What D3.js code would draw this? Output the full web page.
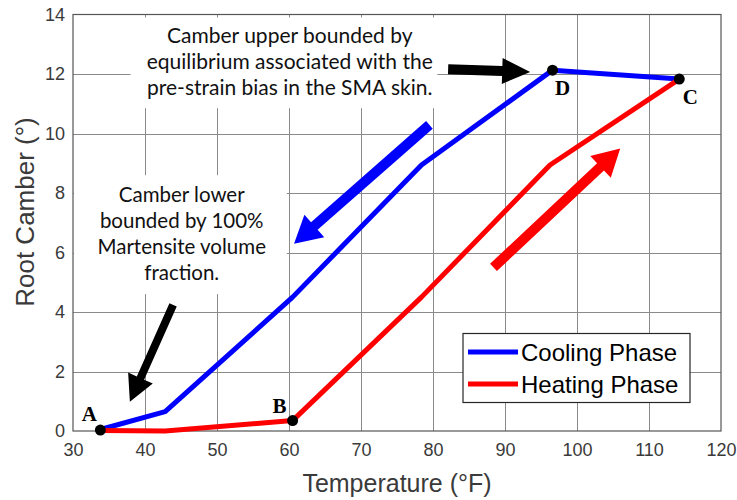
<!DOCTYPE html>
<html>
<head>
<meta charset="utf-8">
<script src="https://cdn.jsdelivr.net/npm/d3@7"></script>
<style>
  html, body { margin: 0; padding: 0; background: #fff; }
  svg { display: block; }
</style>
</head>
<body>
<div id="chart"></div>
<script>
// temperature (°F) and root camber (°)
const coolingTemp = [33.8, 42.8, 60.5, 78.4, 96.6, 114.2];
const coolingCamber = [0.05, 0.65, 4.5, 8.94, 12.13, 11.83];
const heatingTemp = [33.8, 42.8, 60.5, 78.4, 96.25, 114.2];
const heatingCamber = [0.02, 0.0, 0.35, 4.5, 8.94, 11.83];

const pointNames = ['A', 'B', 'C', 'D'];
const pointTemp = [33.8, 60.5, 114.2, 96.6];
const pointCamber = [0.03, 0.35, 11.83, 12.13];

const xTicks = [30, 40, 50, 60, 70, 80, 90, 100, 110, 120];
const yTicks = [0, 2, 4, 6, 8, 10, 12, 14];

const seriesNames = ['Cooling Phase', 'Heating Phase'];

const upperNote = ['Camber upper bounded by', 'equilibrium associated with the', 'pre-strain bias in the SMA skin.'];
const lowerNote = ['Camber lower', 'bounded by 100%', 'Martensite volume', 'fraction.'];

// arrows: [tailTemp, tailCamber, tipTemp, tipCamber]
const arrowBlack1 = [43.9, 4.24, 37.9, 0.98];
const arrowBlack2 = [82.1, 12.16, 93.5, 12.07];
const arrowCooling = [79.5, 10.29, 60.7, 6.29];
const arrowHeating = [88.4, 5.5, 106.0, 9.5];

const width = 737, height = 500;
const plotLeft = 73, plotRight = 721, plotTop = 14.5, plotBottom = 431;

const svg = d3.select('#chart').append('svg')
  .attr('width', width)
  .attr('height', height);

const x = d3.scaleLinear().domain([30, 120]).range([plotLeft, plotRight]);
const y = d3.scaleLinear().domain([0, 14]).range([plotBottom, plotTop]);

const axisFont = 'Liberation Sans, Arial, sans-serif';
const noteFont = 'Lato, Carlito, Calibri, sans-serif';

// grid
const grid = svg.append('g').attr('stroke', '#8a8a8a').attr('stroke-width', 1);
grid.selectAll('.gx').data(xTicks.slice(1, -1)).enter().append('line')
  .attr('x1', d => Math.round(x(d)) + 0.5).attr('x2', d => Math.round(x(d)) + 0.5)
  .attr('y1', plotTop).attr('y2', plotBottom);
grid.selectAll('.gy').data(yTicks.slice(1, -1)).enter().append('line')
  .attr('x1', plotLeft).attr('x2', plotRight)
  .attr('y1', d => Math.round(y(d)) + 0.5).attr('y2', d => Math.round(y(d)) + 0.5);

// axes
const xAxis = svg.append('g')
  .attr('transform', 'translate(0,' + plotBottom + ')')
  .call(d3.axisBottom(x).tickValues(xTicks).tickSize(0).tickPadding(12));
const yAxis = svg.append('g')
  .attr('transform', 'translate(' + plotLeft + ',0)')
  .call(d3.axisLeft(y).tickValues(yTicks).tickSize(0).tickPadding(8));
[xAxis, yAxis].forEach(a => {
  a.select('.domain').remove();
  a.selectAll('text')
    .style('font-family', axisFont)
    .style('font-size', '18px')
    .attr('fill', '#3a3a3a');
});

svg.append('rect')
  .attr('x', plotLeft).attr('y', plotTop)
  .attr('width', plotRight - plotLeft).attr('height', plotBottom - plotTop)
  .attr('fill', 'none')
  .attr('stroke', '#555')
  .attr('stroke-width', 1.2);

// white note boxes over the grid
svg.append('rect')
  .attr('x', x(38)).attr('y', y(13.9))
  .attr('width', x(80.6) - x(38)).attr('height', y(10.85) - y(13.9))
  .attr('fill', '#fff');
svg.append('rect')
  .attr('x', plotLeft + 1).attr('y', y(8.6))
  .attr('width', x(59.7) - plotLeft - 1).attr('height', y(4.6) - y(8.6))
  .attr('fill', '#fff');

const upper = svg.append('text')
  .attr('text-anchor', 'middle')
  .style('font-family', noteFont)
  .style('font-size', '21px')
  .attr('fill', '#111');
upper.selectAll('tspan').data(upperNote).enter().append('tspan')
  .attr('x', x(60.1))
  .attr('y', (d, i) => 43 + i * 26)
  .text(d => d);

const lower = svg.append('text')
  .attr('text-anchor', 'middle')
  .style('font-family', noteFont)
  .style('font-size', '20.5px')
  .attr('fill', '#111');
lower.selectAll('tspan').data(lowerNote).enter().append('tspan')
  .attr('x', x(45.1))
  .attr('y', (d, i) => 202 + i * 26)
  .text(d => d);

// arrows
function arrow(a, color, shaft, headW, headL) {
  const x0 = x(a[0]), y0 = y(a[1]), x1 = x(a[2]), y1 = y(a[3]);
  const len = Math.hypot(x1 - x0, y1 - y0);
  const ux = (x1 - x0) / len, uy = (y1 - y0) / len;
  const nx = -uy, ny = ux;
  const bx = x1 - ux * headL, by = y1 - uy * headL;
  const pts = [
    [x0 + nx * shaft / 2, y0 + ny * shaft / 2],
    [bx + nx * shaft / 2, by + ny * shaft / 2],
    [bx + nx * headW / 2, by + ny * headW / 2],
    [x1, y1],
    [bx - nx * headW / 2, by - ny * headW / 2],
    [bx - nx * shaft / 2, by - ny * shaft / 2],
    [x0 - nx * shaft / 2, y0 - ny * shaft / 2]
  ];
  svg.append('polygon')
    .attr('points', pts.map(p => p.join(',')).join(' '))
    .attr('fill', color);
}
arrow(arrowBlack1, '#000', 8, 27, 26);
arrow(arrowBlack2, '#000', 10, 26, 28);
arrow(arrowCooling, '#0000ff', 10, 30, 27);
arrow(arrowHeating, '#ff0000', 10, 30, 27);

// series
const line = d3.line().x(d => x(d[0])).y(d => y(d[1]));
const colors = ['#0000ff', '#ff0000'];
const series = [
  d3.zip(coolingTemp, coolingCamber),
  d3.zip(heatingTemp, heatingCamber)
];
series.forEach((s, i) => {
  svg.append('path')
    .datum(s)
    .attr('d', line)
    .attr('fill', 'none')
    .attr('stroke', colors[i])
    .attr('stroke-width', 5)
    .attr('stroke-linejoin', 'round');
});

// labelled points
const labelOffsets = [[-11, -9], [-13, -8], [11, 25], [10, 25]];
svg.selectAll('.pt').data(pointNames).enter().append('circle')
  .attr('cx', (d, i) => x(pointTemp[i]))
  .attr('cy', (d, i) => y(pointCamber[i]))
  .attr('r', 5.5)
  .attr('fill', '#000');
svg.selectAll('.lbl').data(pointNames).enter().append('text')
  .attr('x', (d, i) => x(pointTemp[i]) + labelOffsets[i][0])
  .attr('y', (d, i) => y(pointCamber[i]) + labelOffsets[i][1])
  .attr('text-anchor', 'middle')
  .style('font-family', 'Liberation Serif, Times New Roman, serif')
  .style('font-weight', 'bold')
  .style('font-size', '21px')
  .text(d => d);

// axis titles
svg.append('text')
  .attr('x', (plotLeft + plotRight) / 2)
  .attr('y', 492)
  .attr('text-anchor', 'middle')
  .style('font-family', axisFont)
  .style('font-size', '25px')
  .attr('fill', '#3a3a3a')
  .text('Temperature (°F)');
svg.append('text')
  .attr('transform', 'translate(34,212) rotate(-90)')
  .attr('text-anchor', 'middle')
  .style('font-family', axisFont)
  .style('font-size', '26px')
  .attr('fill', '#3a3a3a')
  .text('Root Camber (°)');

// legend
const legend = svg.append('g');
legend.append('rect')
  .attr('x', 463).attr('y', 333.5)
  .attr('width', 227).attr('height', 69)
  .attr('fill', '#fff')
  .attr('stroke', '#262626')
  .attr('stroke-width', 1.2);
seriesNames.forEach((name, i) => {
  const ly = 352 + i * 32;
  legend.append('line')
    .attr('x1', 468).attr('x2', 518)
    .attr('y1', ly).attr('y2', ly)
    .attr('stroke', colors[i])
    .attr('stroke-width', 5);
  legend.append('text')
    .attr('x', 521).attr('y', ly + 8.5)
    .style('font-family', axisFont)
    .style('font-size', '24px')
    .attr('fill', '#000')
    .text(name);
});
</script>
</body>
</html>
